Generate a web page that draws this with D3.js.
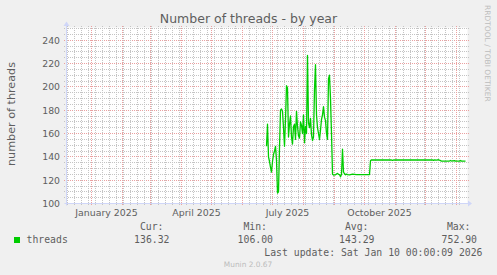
<!DOCTYPE html>
<html><head><meta charset="utf-8">
<script src="https://cdn.jsdelivr.net/npm/d3@7"></script>
<style>body{margin:0;background:#f0f0f0}svg{display:block}</style>
</head><body><svg id="c" width="497" height="275"></svg>
<script>
// ---- data ----
const dates = [
 "2025-06-25","2025-06-26","2025-06-27","2025-06-28","2025-06-29","2025-06-30",
 "2025-07-01","2025-07-02","2025-07-03","2025-07-04","2025-07-05","2025-07-06","2025-07-07",
 "2025-07-08","2025-07-09","2025-07-10","2025-07-11","2025-07-12","2025-07-13","2025-07-14",
 "2025-07-15","2025-07-16","2025-07-17","2025-07-18","2025-07-19","2025-07-20","2025-07-21",
 "2025-07-22","2025-07-23","2025-07-24","2025-07-25","2025-07-26","2025-07-27","2025-07-28",
 "2025-07-29","2025-07-30","2025-07-31","2025-08-01","2025-08-02","2025-08-03","2025-08-04",
 "2025-08-05","2025-08-06","2025-08-07","2025-08-08","2025-08-09","2025-08-10","2025-08-11",
 "2025-08-12","2025-08-13","2025-08-14","2025-08-15","2025-08-16","2025-08-17","2025-08-18",
 "2025-08-19","2025-08-20","2025-08-21","2025-08-22","2025-08-23","2025-08-24","2025-08-25",
 "2025-08-26","2025-08-27","2025-08-28","2025-08-29","2025-08-30","2025-08-31",
 "2025-09-01","2025-09-02","2025-09-03","2025-09-04","2025-09-05","2025-09-06","2025-09-07",
 "2025-09-08","2025-09-09","2025-09-10","2025-09-11","2025-09-12","2025-09-13","2025-09-14",
 "2025-09-16","2025-09-19","2025-09-23","2025-10-06","2025-10-07","2025-10-08",
 "2025-10-28","2025-10-29","2025-10-30","2025-12-08","2025-12-09","2025-12-10","2025-12-12",
 "2025-12-14","2025-12-15","2025-12-17","2025-12-25","2025-12-26","2025-12-27","2025-12-30",
 "2025-12-31","2026-01-04","2026-01-05","2026-01-06","2026-01-10"
];
const threads = [
 149,168,140,136,131,127,
 136,142,145,149,137,109,110,
 148,180,181,179,165,149,172,
 201,199,157,168,175,157,151,
 166,168,155,179,166,158,156,
 170,167,160,176,152,166,160,
 227,169,165,173,159,154,157,
 198,219,176,165,160,155,163,
 172,176,183,174,171,160,155,
 207,210,190,160,125,124.4,
 124.5,124.6,125.3,125.8,125,124.8,122.9,
 125,146.5,127,125.5,124.6,125.2,124.8,
 124.6,125.1,124.7,124.8,136.7,137.4,
 137.3,136.9,137.3,137.3,137.0,137.4,137.1,
 137.5,137.1,136.4,136.4,136.9,136.4,136.8,
 136.3,136.3,136.9,136.3,136.3
];
const yTicks = [100,120,140,160,180,200,220,240];
const timeDomain = ["2024-12-07","2026-01-11"];
const valueDomain = [100,250];
const seriesName = "threads";
const legendHeads = ["Cur:","Min:","Avg:","Max:"];
const legendVals = ["136.32","106.00","143.29","752.90"];
const titleText = "Number of threads - by year";
const yLabel = "number of threads";
const lastUpdate = "Last update: Sat Jan 10 00:00:09 2026";
const footer = "Munin 2.0.67";
const vendor = "RRDTOOL / TOBI OETIKER";

// ---- drawing ----
const parse = d3.utcParse("%Y-%m-%d");
const svg = d3.select("#c");
const L = 66.5, R = 466.5, B = 203.5, T = 28.5;
const x = d3.scaleUtc().domain(timeDomain.map(parse)).range([L, R]);
const y = d3.scaleLinear().domain(valueDomain).range([B, T]);
const crisp = v => Math.floor(v) + 0.5;
const SANS = "DejaVu Sans, sans-serif", MONO = "DejaVu Sans Mono, monospace";
const FONT = "#5e5e5e";

svg.append("rect").attr("width",497).attr("height",275).attr("fill","#f0f0f0");
svg.append("rect").attr("x",L).attr("y",T-1).attr("width",R-L+1).attr("height",B-T+1).attr("fill","#ffffff");

const grid = svg.append("g");
const minorCol = "#c4c4c4", majorCol = "#eba0a0";
// horizontal grid
d3.range(valueDomain[0]+5, valueDomain[1]+0.1, 5).forEach(v => {
  const major = v % 20 === 0;
  grid.append("line").attr("x1",64).attr("x2",469)
    .attr("y1",crisp(y(v))).attr("y2",crisp(y(v)))
    .attr("stroke", major ? majorCol : minorCol).attr("stroke-dasharray","1,1");
});
// vertical grid: weeks (minor) and months (major)
const xd = x.domain();
const months = d3.utcMonth.range(xd[0], xd[1]);
d3.utcSunday.range(xd[0], xd[1]).forEach(d => {
  const px = crisp(x(d));
  if (months.some(m => Math.abs(crisp(x(m)) - px) < 1)) return;
  grid.append("line").attr("x1",px).attr("x2",px).attr("y1",26).attr("y2",206)
    .attr("stroke",minorCol).attr("stroke-dasharray","1,1");
});
months.forEach(d => {
  const px = crisp(x(d));
  grid.append("line").attr("x1",px).attr("x2",px).attr("y1",26).attr("y2",206)
    .attr("stroke",majorCol).attr("stroke-dasharray","1,1");
});

// axes
const axisCol = "#cfd6f8";
svg.append("line").attr("x1",L-2).attr("x2",R+3).attr("y1",B).attr("y2",B).attr("stroke",axisCol);
svg.append("line").attr("x1",L).attr("x2",L).attr("y1",B+2).attr("y2",T-3).attr("stroke",axisCol);
svg.append("path").attr("d",`M${R+1.5},${B-3}L${R+5.5},${B}L${R+1.5},${B+3}Z`).attr("fill",axisCol);
svg.append("path").attr("d",`M${L-3},${T-2.5}L${L},${T-7}L${L+3},${T-2.5}Z`).attr("fill",axisCol);

// y tick labels
svg.append("g").selectAll("text").data(yTicks).join("text")
  .attr("x",60).attr("y",d => crisp(y(d))).attr("dy","0.36em")
  .attr("text-anchor","end").attr("font-family",SANS).attr("font-size",9.3)
  .attr("fill",FONT).text(d => d);

// x labels: every 3rd month, centred mid-month
const fmt = d3.utcFormat("%B %Y");
d3.utcMonth.every(3).range(xd[0], xd[1]).forEach(m => {
  const c = d3.utcDay.offset(m, 15);
  if (c > xd[1]) return;
  svg.append("text").attr("x",x(c)).attr("y",216).attr("text-anchor","middle")
    .attr("font-family",SANS).attr("font-size",9.4).attr("fill",FONT).text(fmt(m));
});

// line
const data = dates.map((d,i) => ({t: parse(d), v: threads[i]}));
svg.append("path").datum(data)
  .attr("d", d3.line().x(d => x(d.t)).y(d => y(d.v)))
  .attr("fill","none").attr("stroke","#00cc00").attr("stroke-width",1.3)
  .attr("stroke-linejoin","round");

// title and labels
svg.append("text").attr("x",248.5).attr("y",22.5).attr("text-anchor","middle")
  .attr("font-family",SANS).attr("font-size",12.5).attr("fill",FONT).text(titleText);
svg.append("text").attr("transform","translate(15,114) rotate(-90)").attr("text-anchor","middle")
  .attr("font-family",SANS).attr("font-size",11.2).attr("fill",FONT).text(yLabel);
svg.append("text").attr("transform","translate(484.5,5) rotate(90)").attr("text-anchor","start")
  .attr("font-family",SANS).attr("font-size",7.5).attr("fill","#bdbdbd").text(vendor);

// legend
svg.append("rect").attr("x",14).attr("y",237).attr("width",6).attr("height",6).attr("fill","#00cc00");
svg.append("text").attr("x",26.5).attr("y",243).attr("font-family",MONO).attr("font-size",9.8)
  .attr("fill",FONT).text(seriesName);
const headEnds = [163.5, 267, 368.5, 470.5];
const valEnds = [169.5, 273, 374.5, 477];
legendHeads.forEach((h,i) => svg.append("text").attr("x",headEnds[i]).attr("y",230)
  .attr("text-anchor","end").attr("font-family",MONO).attr("font-size",9.8).attr("fill",FONT).text(h));
legendVals.forEach((h,i) => svg.append("text").attr("x",valEnds[i]).attr("y",243)
  .attr("text-anchor","end").attr("font-family",MONO).attr("font-size",9.8).attr("fill",FONT).text(h));
svg.append("text").attr("x",482.5).attr("y",255.5).attr("text-anchor","end")
  .attr("font-family",MONO).attr("font-size",9.8).attr("fill",FONT).text(lastUpdate);
svg.append("text").attr("x",248).attr("y",266.5).attr("text-anchor","middle")
  .attr("font-family",SANS).attr("font-size",7.4).attr("fill","#bcbcbc").text(footer);
</script></body></html>
